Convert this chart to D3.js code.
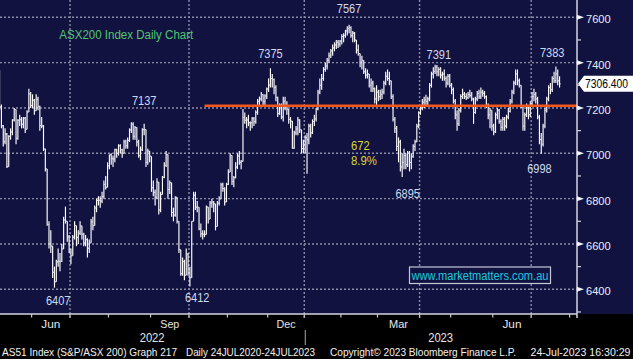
<!DOCTYPE html>
<html>
<head>
<meta charset="utf-8">
<script src="https://cdn.jsdelivr.net/npm/d3@7"></script>
<style>
  html, body { margin: 0; padding: 0; background: #000; }
  svg { display: block; }
  text { font-family: "Liberation Sans", Arial, sans-serif; }
</style>
</head>
<body>
<div id="chart"></div>
<script>
// ASX trading holidays inside the window (weekends are skipped too)
const asxHolidays = ["2022-06-13", "2022-09-22", "2022-12-26", "2022-12-27", "2023-01-02",
  "2023-01-26", "2023-04-07", "2023-04-10", "2023-04-25", "2023-06-12"];

// daily OHLC, one value per trading day from 2 May 2022 to 24 Jul 2023
const opens = [
  // May 22
  7435,7391,7420,7364,7367,7205,7121,7051,7085,6941,7075,7094,7147,7193,7066,7146,7148,7128,7155,7106,7182,7262,
  // Jun 22
  7211,7234,7188,7238,7207,7122,7121,7019,6931,6686,6601,6591,6475,6433,6521,6523,6524,6578,6706,6700,6631,
  // Jul 22
  6568,6548,6630,6681,6629,6647,6679,6643,6605,6619,6581,6605,6698,6681,6759,6792,6793,6789,6809,6863,6850,
  // Aug 22
  6945,6993,6976,6975,7016,6999,7033,7016,7000,7051,7033,7057,7103,7128,7075,7114,7050,6990,7015,7104,7105,6960,7010,
  // Sep 22
  6987,6848,6828,6806,6873,6750,6818,6894,6946,6995,6840,6870,6739,6727,6806,6700,6575,6469,6522,6462,6555,
  // Oct 22
  6474,6451,6700,6815,6762,6762,6667,6645,6643,6642,6763,6710,6780,6785,6777,6677,6780,6799,6861,6844,6785,
  // Nov 22
  6863,6917,6990,6876,6892,6939,6988,6960,6964,7158,7146,7147,7135,7135,7153,7140,7181,7229,7240,7259,7229,7253,
  // Dec 22
  7284,7301,7330,7325,7291,7247,7175,7213,7160,7230,7205,7195,7150,7142,7023,7090,7107,7147,7104,7021,
  // Jan 23
  7039,7069,7060,7120,7090,7140,7152,7195,7270,7300,7330,7370,7385,7410,7430,7452,7465,7478,7490,7482,
  // Feb 23
  7495,7515,7520,7540,7550,7555,7520,7530,7500,7455,7440,7400,7410,7360,7345,7350,7300,7310,7285,7240,
  // Mar 23
  7270,7250,7260,7270,7310,7340,7330,7320,7250,7150,7110,7030,7050,6940,6960,6990,6950,7000,6960,6985,7030,7050,7120,
  // Apr 23
  7178,7200,7225,7235,7229,7240,7300,7350,7362,7380,7360,7370,7345,7350,7330,7310,7340,
  // May 23
  7300,7280,7230,7170,7130,7190,7250,7260,7250,7245,7260,7255,7240,7180,7240,7265,7250,7270,7265,7250,7210,7170,7190,
  // Jun 23
  7120,7095,7170,7190,7140,7115,7150,7120,7160,7185,7230,7270,7310,7350,7320,7300,7210,7120,7170,7200,7170,
  // Jul 23
  7220,7250,7260,7240,7160,7060,7040,7120,7190,7240,7290,7280,7330,7320,7350,7320
];
const highs = [
  7440,7470,7425,7400,7367,7215,7125,7110,7090,7080,7110,7150,7200,7193,7150,7170,7160,7160,7160,7190,7285,7270,
  7260,7240,7260,7250,7210,7160,7125,7020,6931,6700,6660,6591,6500,6530,6580,6560,6600,6720,6765,6700,6640,
  6580,6640,6700,6681,6660,6700,6680,6650,6640,6625,6620,6710,6720,6770,6800,6810,6810,6830,6880,6900,6960,
  6995,7000,6990,7020,7020,7040,7040,7020,7060,7060,7070,7110,7137,7137,7120,7115,7060,7030,7110,7130,7105,7020,7010,
  6987,6880,6840,6890,6873,6830,6900,6960,7010,6995,6880,6870,6760,6810,6806,6700,6575,6540,6530,6580,6560,
  6500,6700,6830,6830,6790,6762,6690,6660,6660,6770,6763,6790,6800,6790,6777,6790,6810,6870,6870,6850,6870,
  6930,7000,6990,6900,6960,7000,7010,6970,7195,7180,7160,7170,7140,7160,7160,7190,7240,7250,7270,7260,7260,7290,
  7330,7375,7350,7330,7300,7250,7220,7220,7250,7250,7230,7195,7160,7142,7100,7120,7160,7150,7104,7060,
  7080,7090,7130,7130,7150,7170,7200,7280,7330,7350,7380,7400,7420,7445,7460,7480,7490,7500,7500,7500,
  7525,7530,7545,7560,7567,7560,7540,7535,7500,7480,7440,7430,7410,7375,7370,7350,7330,7320,7290,7300,
  7280,7280,7285,7320,7360,7370,7360,7320,7260,7160,7120,7070,7060,7000,7020,7000,7010,7010,7000,7040,7060,7130,7185,
  7210,7240,7250,7258,7250,7310,7360,7380,7391,7390,7380,7380,7360,7370,7340,7350,7350,
  7310,7290,7240,7190,7200,7260,7285,7270,7265,7270,7280,7270,7245,7250,7275,7280,7290,7280,7275,7255,7220,7200,7190,
  7130,7180,7200,7195,7150,7160,7160,7170,7200,7240,7280,7320,7370,7370,7330,7300,7210,7180,7220,7210,7230,
  7270,7285,7270,7250,7170,7090,7130,7200,7250,7300,7310,7340,7360,7383,7370,7340
];
const lows = [
  7380,7380,7330,7320,7190,7110,7030,7040,6935,6941,7060,7080,7140,7040,7060,7120,7110,7110,7090,7106,7182,7200,
  7200,7170,7188,7190,7100,7110,7010,6920,6680,6580,6560,6450,6407,6433,6500,6480,6520,6578,6690,6610,6560,
  6510,6548,6620,6590,6600,6640,6620,6590,6590,6540,6560,6605,6660,6681,6740,6770,6760,6780,6800,6840,6850,
  6930,6950,6940,6960,6980,6990,7000,6980,7000,7020,7020,7050,7090,7060,7060,7030,6980,6970,7010,7080,6940,6950,6960,
  6830,6810,6770,6800,6730,6740,6818,6890,6940,6800,6820,6720,6700,6720,6690,6560,6460,6460,6440,6462,6460,
  6412,6451,6700,6750,6740,6660,6630,6620,6630,6642,6690,6710,6760,6740,6660,6677,6770,6799,6830,6770,6785,
  6860,6917,6860,6850,6890,6930,6950,6930,6964,7130,7110,7120,7100,7110,7120,7130,7170,7210,7230,7210,7210,7240,
  7270,7290,7290,7260,7230,7160,7170,7150,7140,7190,7170,7130,7110,7020,7020,7080,7080,7090,7000,7000,
  7000,6910,7040,7070,7085,7120,7140,7190,7260,7280,7320,7360,7370,7400,7420,7430,7450,7460,7465,7470,
  7480,7490,7510,7520,7530,7510,7490,7490,7440,7430,7380,7370,7350,7330,7330,7290,7270,7270,7220,7210,
  7230,7235,7240,7260,7300,7320,7300,7240,7140,7090,7010,6960,6920,6895,6930,6930,6940,6920,6930,6980,7010,7050,7110,
  7170,7190,7200,7210,7205,7230,7290,7330,7350,7340,7340,7330,7320,7320,7290,7300,7290,
  7260,7220,7150,7100,7120,7180,7240,7240,7235,7240,7245,7230,7130,7175,7230,7240,7240,7250,7240,7200,7150,7110,7100,
  7080,7090,7150,7130,7100,7100,7100,7110,7150,7180,7220,7260,7300,7300,7290,7200,7100,7100,7160,7150,7160,
  7210,7230,7220,7150,7040,6998,7030,7110,7180,7230,7260,7270,7310,7310,7300,7290
];
const closes = [
  7391,7462,7364,7367,7205,7121,7051,7085,6941,7075,7094,7147,7193,7066,7146,7148,7128,7155,7106,7182,7262,7211,
  7234,7188,7238,7207,7122,7121,7019,6931,6686,6601,6591,6475,6433,6521,6523,6524,6578,6706,6700,6631,6568,
  6548,6630,6681,6629,6647,6679,6643,6605,6619,6581,6605,6698,6681,6759,6792,6793,6789,6809,6863,6850,6945,
  6993,6976,6975,7016,6999,7033,7016,7000,7051,7033,7057,7103,7128,7075,7114,7050,6990,7015,7104,7105,6960,7010,6987,
  6848,6828,6806,6873,6750,6818,6894,6946,6995,6840,6870,6739,6727,6806,6700,6575,6469,6522,6462,6555,6474,
  6451,6700,6815,6762,6762,6667,6645,6643,6642,6763,6710,6780,6785,6777,6677,6780,6799,6861,6844,6785,6863,
  6917,6990,6876,6892,6939,6988,6960,6964,7158,7146,7147,7135,7135,7153,7140,7181,7229,7240,7259,7229,7253,7284,
  7301,7330,7325,7291,7247,7175,7213,7160,7230,7205,7195,7150,7142,7023,7090,7107,7147,7104,7021,7039,
  7069,7060,7120,7090,7140,7152,7195,7270,7300,7330,7370,7385,7410,7430,7452,7465,7478,7490,7482,7495,
  7515,7520,7540,7550,7555,7520,7530,7500,7455,7440,7400,7410,7360,7345,7350,7300,7310,7285,7240,7270,
  7250,7260,7270,7310,7340,7330,7320,7250,7150,7110,7030,7050,6940,6960,6990,6950,7000,6960,6985,7030,7050,7120,7178,
  7200,7225,7235,7229,7240,7300,7350,7362,7380,7360,7370,7345,7350,7330,7310,7340,7300,
  7280,7230,7170,7130,7190,7250,7260,7250,7245,7260,7255,7240,7180,7240,7265,7250,7270,7265,7250,7210,7170,7190,7120,
  7095,7170,7190,7140,7115,7150,7120,7160,7185,7230,7270,7310,7350,7320,7300,7210,7120,7170,7200,7170,7220,
  7250,7260,7240,7160,7060,7040,7120,7190,7240,7290,7280,7330,7320,7350,7320,7306.4
];

const yTicks = [6400, 6600, 6800, 7000, 7200, 7400, 7600];
const yMinorTicks = [6300, 6500, 6700, 6900, 7100, 7300, 7500];
const monthLabelMonths = ["2022-06", "2022-09", "2022-12", "2023-03", "2023-06"];
const yearLabels = ["2022", "2023"];

// swing high/low notes (text, anchor day, anchor level)
const noteText = ["7137", "7375", "7567", "7391", "7383", "6407", "6412", "6895", "6998"];
const noteDay = ["2022-08-26", "2022-12-02", "2023-02-07", "2023-04-19", "2023-07-18",
  "2022-06-22", "2022-10-07", "2023-03-23", "2023-07-07"];
const noteLevel = [7231, 7441, 7640, 7437, 7445, 6353, 6363, 6824, 6935];

const moveText = ["672", "8.9%"];
const moveDay = ["2023-02-08", "2023-02-08"];
const moveLevel = [7034, 6967];

const supportLevel = 7210;
const supportStart = "2022-10-13";

const W = 633, H = 359, plotW = 577, plotH = 314;
const navy = "#121241";

const fmt = d3.timeFormat("%Y-%m-%d");
const calendar = d3.timeDay.range(new Date(2022, 4, 2), new Date(2023, 8, 1))
  .filter(d => d.getDay() !== 0 && d.getDay() !== 6 && !asxHolidays.includes(fmt(d)));
const dayIndex = new Map(calendar.map((d, i) => [fmt(d), i]));

const bars = closes.map((c, i) => ({ i, o: opens[i], h: highs[i], l: lows[i], c }));

const x = d3.scaleLinear().domain([4.23, 319.53]).range([0, plotW]);
const y = d3.scaleLinear().domain([6400, 7600]).range([289.3, 17.3]);

const svg = d3.select("#chart").append("svg").attr("width", W).attr("height", H);
svg.append("rect").attr("width", W).attr("height", H).attr("fill", "#000");
svg.append("rect").attr("width", W).attr("height", plotH).attr("fill", navy);

svg.append("clipPath").attr("id", "plotclip")
  .append("rect").attr("width", plotW).attr("height", plotH);

// month boundaries (between last day of one month and first of the next)
const monthStarts = [];
calendar.forEach((d, i) => {
  if (i > 0 && d.getMonth() !== calendar[i - 1].getMonth()) monthStarts.push({ date: d, b: i - 0.5 });
});
const quarterStarts = monthStarts.filter(m => m.date.getMonth() % 3 === 0);

// grid
const grid = svg.append("g").attr("stroke", "#8c8ca4").attr("stroke-width", 1.4)
  .attr("stroke-dasharray", "2,2");
grid.selectAll("line.h").data(yTicks).join("line").attr("class", "h")
  .attr("x1", 0).attr("x2", plotW).attr("y1", d => y(d)).attr("y2", d => y(d));
grid.selectAll("line.v").data(quarterStarts).join("line").attr("class", "v")
  .attr("x1", d => x(d.b)).attr("x2", d => x(d.b)).attr("y1", 0).attr("y2", plotH + 4);

// OHLC bars
const bg = svg.append("g").attr("clip-path", "url(#plotclip)");
bg.append("g").selectAll("line").data(bars).join("line")
  .attr("x1", d => x(d.i)).attr("x2", d => x(d.i))
  .attr("y1", d => y(d.h)).attr("y2", d => y(d.l))
  .attr("stroke", "#ffffff").attr("stroke-width", 1.15);
bg.append("g").selectAll("line").data(bars).join("line")
  .attr("x1", d => x(d.i) - 1.2).attr("x2", d => x(d.i))
  .attr("y1", d => y(d.o)).attr("y2", d => y(d.o))
  .attr("stroke", "#dcdce8").attr("stroke-width", 1);
bg.append("g").selectAll("line").data(bars).join("line")
  .attr("x1", d => x(d.i)).attr("x2", d => x(d.i) + 1.2)
  .attr("y1", d => y(d.c)).attr("y2", d => y(d.c))
  .attr("stroke", "#dcdce8").attr("stroke-width", 1);

// support line
svg.append("line")
  .attr("x1", x(dayIndex.get(supportStart))).attr("x2", plotW)
  .attr("y1", y(supportLevel)).attr("y2", y(supportLevel))
  .attr("stroke", "#f2561a").attr("stroke-width", 2.4);

// axes frame
svg.append("line").attr("x1", plotW).attr("x2", plotW).attr("y1", 0).attr("y2", plotH + 4)
  .attr("stroke", "#d4d6e0").attr("stroke-width", 1.5);
svg.append("line").attr("x1", 0).attr("x2", plotW).attr("y1", plotH).attr("y2", plotH)
  .attr("stroke", "#d4d6e0").attr("stroke-width", 1.5);

// right axis ticks and labels
svg.append("g").selectAll("path").data(yTicks.filter(v => y(v) > 2 && y(v) < plotH)).join("path")
  .attr("d", v => `M${plotW},${y(v) - 2.5}L${plotW + 7},${y(v)}L${plotW},${y(v) + 2.5}Z`)
  .attr("fill", "#f0f2f8");
svg.append("g").selectAll("line").data(yMinorTicks.filter(v => y(v) > 2 && y(v) < plotH)).join("line")
  .attr("x1", plotW).attr("x2", plotW + 4).attr("y1", v => y(v)).attr("y2", v => y(v))
  .attr("stroke", "#d4d6e0").attr("stroke-width", 1.2);
svg.append("g").selectAll("text").data(yTicks).join("text")
  .attr("x", plotW + 9).attr("y", v => y(v) + 2).attr("dy", "0.35em")
  .attr("font-size", 11.5).attr("fill", "#e8ecf4")
  .attr("textLength", 24.7).attr("lengthAdjust", "spacingAndGlyphs")
  .text(v => v);

// bottom axis: month ticks, month labels, years
svg.append("g").selectAll("line").data(monthStarts).join("line")
  .attr("x1", d => x(d.b)).attr("x2", d => x(d.b)).attr("y1", plotH).attr("y2", plotH + 3.5)
  .attr("stroke", "#c8c8d0").attr("stroke-width", 1.2);

const monthFmt = d3.timeFormat("%Y-%m");
const monthLabels = monthLabelMonths.map(m => {
  const k = monthStarts.findIndex(s => monthFmt(s.date) === m);
  return { text: d3.timeFormat("%b")(monthStarts[k].date), cx: (x(monthStarts[k].b) + x(monthStarts[k + 1].b)) / 2 };
});
svg.append("g").selectAll("text").data(monthLabels).join("text")
  .attr("x", d => d.cx).attr("y", 324).attr("dy", "0.35em").attr("text-anchor", "middle")
  .attr("font-size", 11.5).attr("fill", "#e6e6e6")
  .attr("textLength", 19).attr("lengthAdjust", "spacingAndGlyphs")
  .text(d => d.text);

const yearEdge = x(monthStarts.find(s => s.date.getMonth() === 0).b);
svg.append("g").selectAll("text").data(yearLabels).join("text")
  .attr("x", (d, i) => i === 0 ? yearEdge / 2 : (yearEdge + plotW) / 2)
  .attr("y", 337.5).attr("dy", "0.35em").attr("text-anchor", "middle")
  .attr("font-size", 12.5).attr("fill", "#e6e6e6")
  .attr("textLength", 25).attr("lengthAdjust", "spacingAndGlyphs")
  .text(d => d);
svg.append("line").attr("x1", yearEdge + 1).attr("x2", yearEdge + 1).attr("y1", 330).attr("y2", 345)
  .attr("stroke", "#a8a8a8").attr("stroke-width", 1);

// title
svg.append("text").attr("x", 59.3).attr("y", 39.3)
  .attr("font-size", 12.5).attr("fill", "#52c46e")
  .attr("textLength", 134).attr("lengthAdjust", "spacingAndGlyphs")
  .text("ASX200 Index Daily Chart");

// notes on swing highs / lows
svg.append("g").selectAll("text").data(noteText).join("text")
  .attr("x", (t, i) => x(dayIndex.get(noteDay[i])))
  .attr("y", (t, i) => y(noteLevel[i])).attr("dy", "0.35em")
  .attr("text-anchor", "middle").attr("font-size", 13).attr("fill", "#cfdaf0")
  .attr("textLength", 24.5).attr("lengthAdjust", "spacingAndGlyphs")
  .text(t => t);

svg.append("g").selectAll("text").data(moveText).join("text")
  .attr("x", (t, i) => x(dayIndex.get(moveDay[i])))
  .attr("y", (t, i) => y(moveLevel[i])).attr("dy", "0.35em")
  .attr("font-size", 13).attr("fill", "#d8d82c")
  .attr("textLength", t => t.length === 3 ? 18.7 : 26).attr("lengthAdjust", "spacingAndGlyphs")
  .text(t => t);

// watermark
svg.append("rect").attr("x", 409.5).attr("y", 267).attr("width", 141).attr("height", 16.5)
  .attr("fill", navy).attr("stroke", "#c4c8d4").attr("stroke-width", 1.2);
svg.append("text").attr("x", 480).attr("y", 275.3).attr("dy", "0.35em").attr("text-anchor", "middle")
  .attr("font-size", 12.5).attr("fill", "#1ec6dc")
  .attr("textLength", 137).attr("lengthAdjust", "spacingAndGlyphs")
  .text("www.marketmatters.com.au");

// last value tag
const last = closes[closes.length - 1];
const ty = y(last);
svg.append("path")
  .attr("d", `M${plotW + 1},${ty}L${plotW + 7},${ty - 8}L${W},${ty - 8}L${W},${ty + 8}L${plotW + 7},${ty + 8}Z`)
  .attr("fill", "#ffffff");
svg.append("text").attr("x", plotW + 8).attr("y", ty).attr("dy", "0.35em")
  .attr("font-size", 12).attr("fill", "#000")
  .attr("textLength", 43).attr("lengthAdjust", "spacingAndGlyphs")
  .text(d3.format(".3f")(last));

// footer
const footer = [
  { t: "AS51 Index (S&P/ASX 200) Graph 217", x: 2, w: 175 },
  { t: "Daily 24JUL2020-24JUL2023", x: 186, w: 129 },
  { t: "Copyright\u00A9 2023 Bloomberg Finance L.P.", x: 330, w: 186 },
  { t: "24-Jul-2023 16:30:29", x: 530.5, w: 100 }
];
svg.append("g").selectAll("text").data(footer).join("text")
  .attr("x", d => d.x).attr("y", 352.5).attr("dy", "0.35em")
  .attr("font-size", 11).attr("fill", "#f0f0f0")
  .attr("textLength", d => d.w).attr("lengthAdjust", "spacingAndGlyphs")
  .text(d => d.t);
</script>
</body>
</html>
